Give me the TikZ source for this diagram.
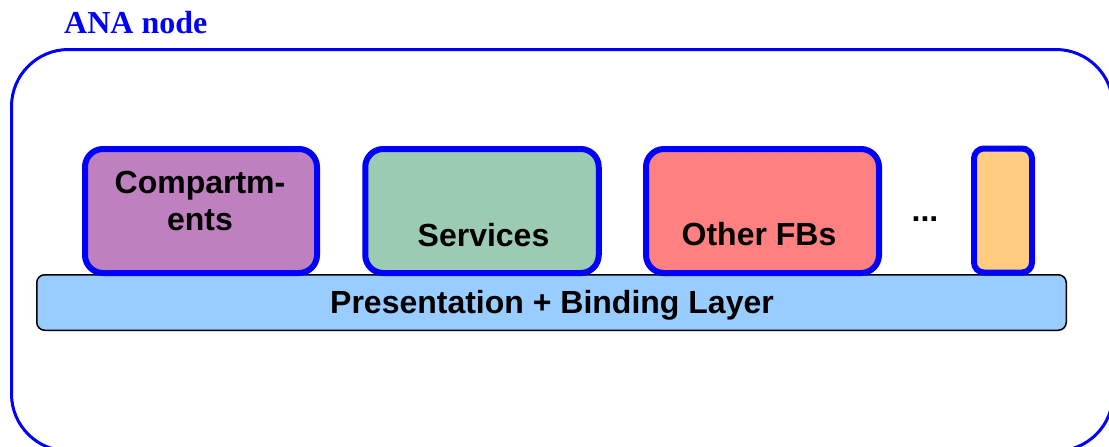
\documentclass[tikz,border=0pt]{standalone}
\usepackage{fontspec}
\setmainfont{Liberation Serif}
\newfontfamily\arialf{Liberation Sans}
\definecolor{anablue}{HTML}{0000FF}
\definecolor{cpurple}{HTML}{BF80BF}
\definecolor{cgreen}{HTML}{9CCBB4}
\definecolor{cred}{HTML}{FF8080}
\definecolor{corange}{HTML}{FFCC80}
\definecolor{clayer}{HTML}{99CCFF}
\tikzset{
  fbbox/.style={draw=anablue, line width=6pt, rounded corners=18pt, minimum height=124pt, inner sep=0pt},
  lbl/.style={font=\arialf\bfseries\fontsize{32}{37}\selectfont, anchor=base, inner sep=0pt, align=center},
}
\begin{document}
\begin{tikzpicture}[x=1pt,y=-1pt]
\useasboundingbox (0,0) rectangle (1109,447);
\clip (0,0) rectangle (1109,447);
\node[font=\bfseries\fontsize{32}{38}\selectfont, text=anablue, anchor=base west, inner sep=0pt] (title) at (64,34) {ANA node};
\draw[anablue, line width=3pt, rounded corners=57pt] (11.5,49.5) rectangle (1113,451);
\node[draw=black, line width=1.5pt, fill=clayer, rounded corners=8pt, minimum width=1029.5pt, minimum height=55.5pt, inner sep=0pt] (layer) at (551.5,302.5) {};
\node[lbl] (layertxt) at (552,313) {Presentation + Binding Layer};
\node[fbbox, fill=cpurple, minimum width=232pt] (comp) at (201,211) {};
\node[fbbox, fill=cgreen, minimum width=233.5pt] (serv) at (482,211) {};
\node[fbbox, fill=cred, minimum width=233pt] (other) at (762.5,211) {};
\node[fbbox, fill=corange, minimum width=58pt, rounded corners=10pt] (more) at (1003,210.5) {};
\node[lbl] (comptxt) at (200,230) {Compartm-\\ents};
\node[lbl] (servtxt) at (483.5,246) {Services};
\node[lbl] (othertxt) at (759,245) {Other FBs};
\node[lbl] (dots) at (925,221) {...};
\end{tikzpicture}
\end{document}
